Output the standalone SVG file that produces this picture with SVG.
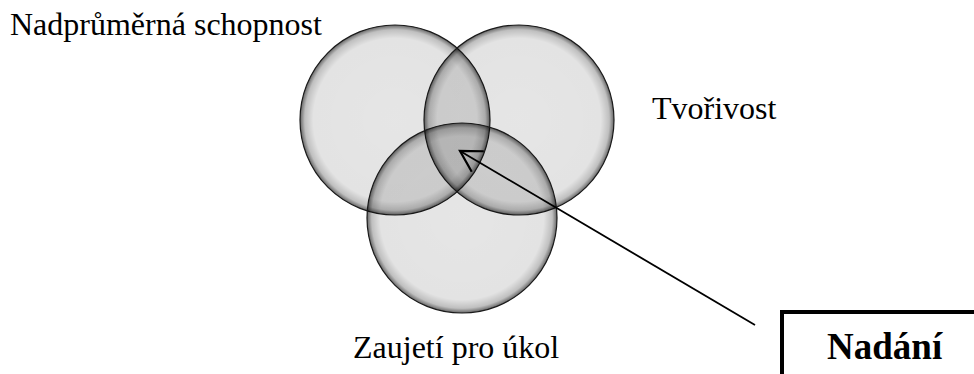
<svg xmlns="http://www.w3.org/2000/svg" width="974" height="374" viewBox="0 0 974 374">
  <style>
    .lbl { font-family: "Liberation Serif", "Times New Roman", serif; font-size: 32px; fill: #000; }
    .bold { font-family: "Liberation Serif", "Times New Roman", serif; font-size: 37px; font-weight: bold; fill: #000; }
    .circ { fill: url(#shade); stroke: #1a1a1a; stroke-width: 1.2; }
  </style>
  <defs>
    <radialGradient id="shade" cx="50%" cy="50%" r="50%">
      <stop offset="0" stop-color="#000" stop-opacity="0.10"/>
      <stop offset="0.86" stop-color="#000" stop-opacity="0.11"/>
      <stop offset="0.95" stop-color="#000" stop-opacity="0.25"/>
      <stop offset="1" stop-color="#000" stop-opacity="0.6"/>
    </radialGradient>
    <marker id="open" markerUnits="userSpaceOnUse" markerWidth="30" markerHeight="30" viewBox="-2 -12 24 24" refX="0" refY="0" orient="auto">
      <path d="M16.5,-9.5 L0,0 L16.5,9.5" fill="none" stroke="#000" stroke-width="1.8"/>
    </marker>
  </defs>
  <rect width="974" height="374" fill="#fff"/>
  <g id="node-schopnost">
    <circle class="circ" cx="395" cy="120" r="95"/>
    <text class="lbl" x="10" y="35">Nadprůměrná schopnost</text>
  </g>
  <g id="node-tvorivost">
    <circle class="circ" cx="519" cy="120" r="95"/>
    <text class="lbl" x="652" y="119">Tvořivost</text>
  </g>
  <g id="node-zaujeti">
    <circle class="circ" cx="462" cy="218" r="95"/>
    <text class="lbl" x="353" y="358">Zaujetí pro úkol</text>
  </g>
  <g id="node-nadani">
    <rect x="782" y="312" width="260" height="120" fill="#fff" stroke="#000" stroke-width="4"/>
    <text class="bold" x="827" y="359">Nadání</text>
  </g>
  <g id="connectors">
    <line x1="460" y1="151" x2="755" y2="325" stroke="#000" stroke-width="1.8" marker-start="url(#open)"/>
  </g>
</svg>
